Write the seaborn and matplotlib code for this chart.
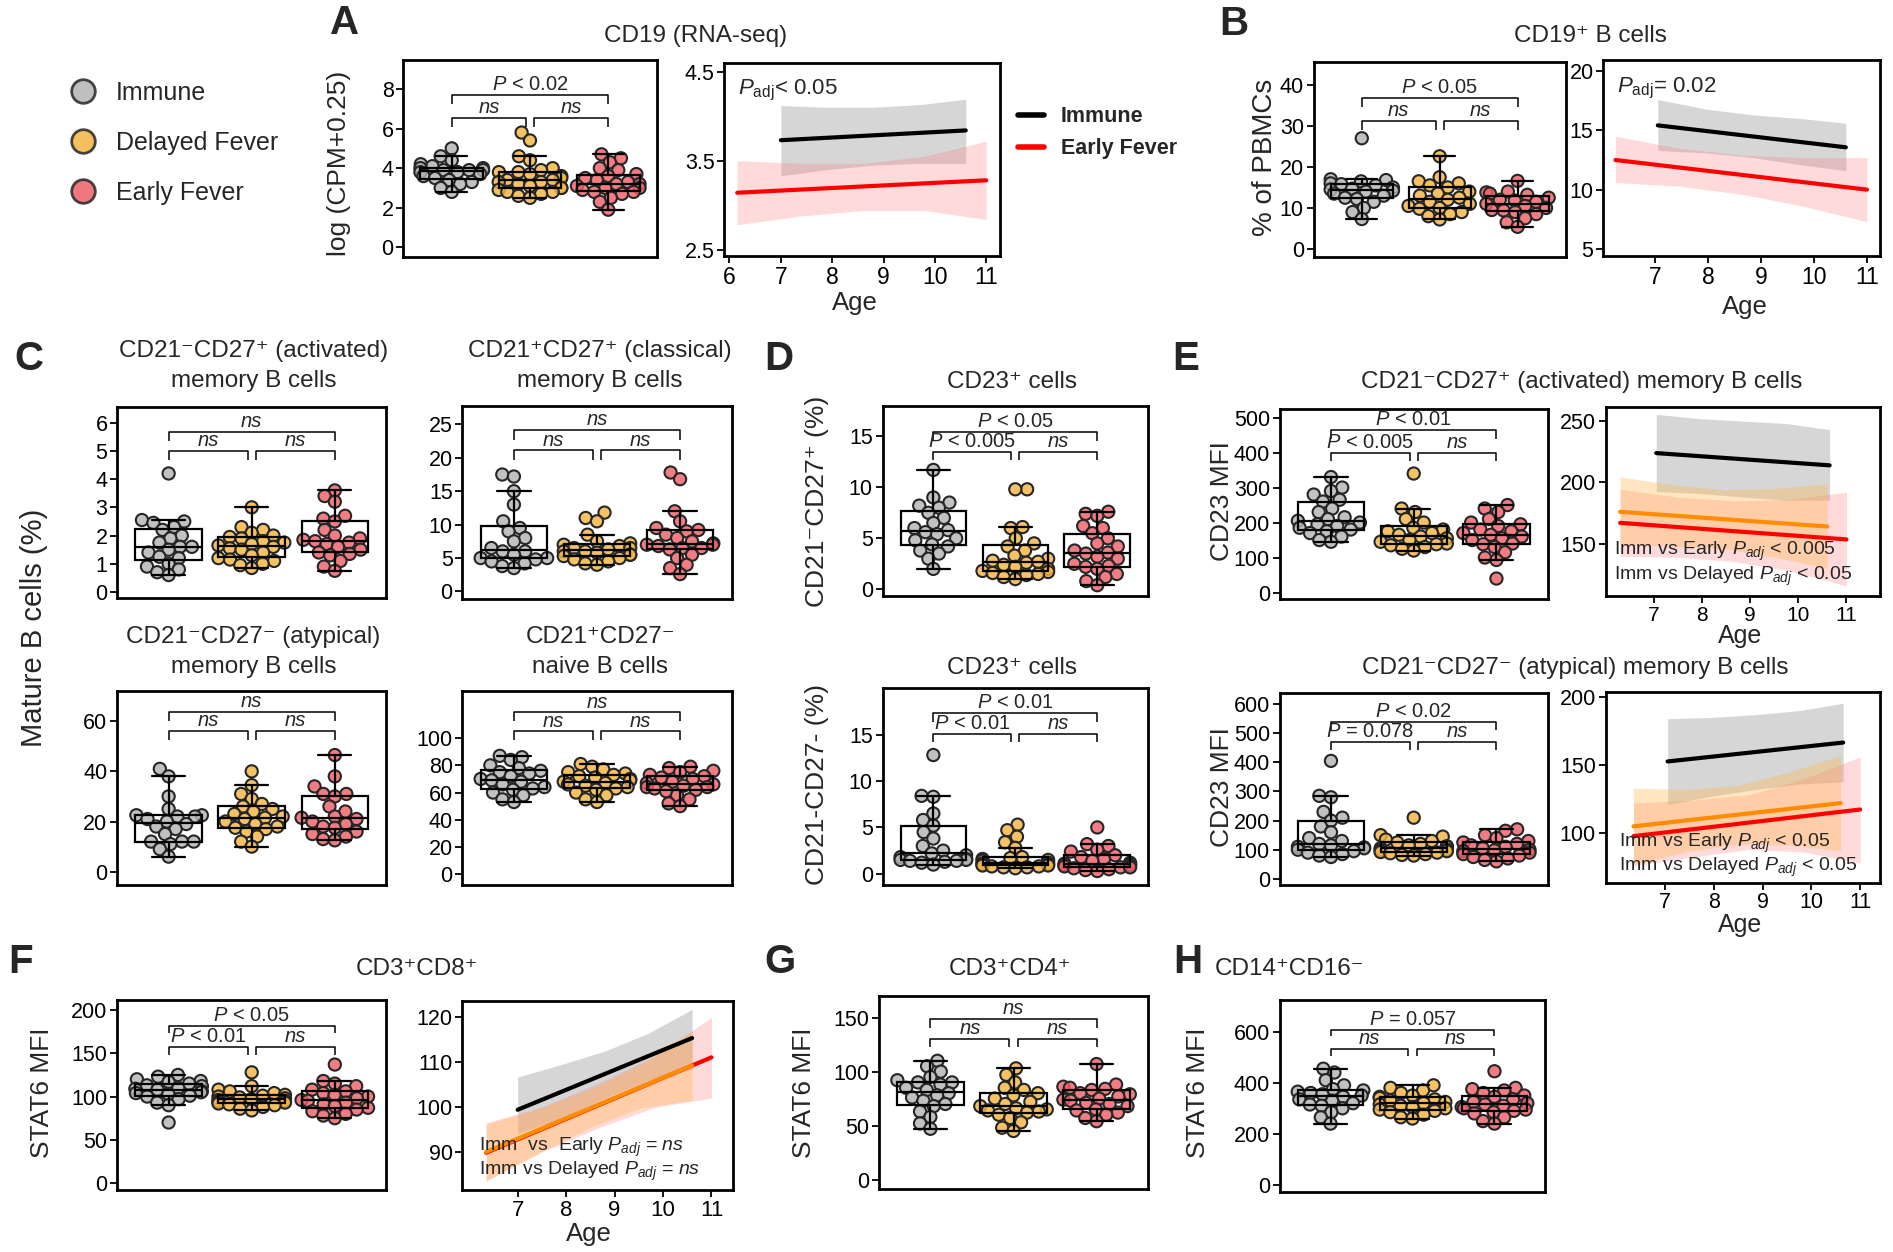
import numpy as np
import pandas as pd
import matplotlib
matplotlib.use("Agg")
import matplotlib.pyplot as plt
import seaborn as sns
from matplotlib.lines import Line2D

GROUPS = ["Immune", "Delayed Fever", "Early Fever"]

# ---------------- box / swarm data ----------------
A_imm = [5.0, 4.6, 4.4, 4.2, 4.1, 4.0, 4.0, 3.9, 3.9, 3.9, 3.8, 3.8, 3.7, 3.6, 3.5, 3.4, 3.3, 3.2, 3.0, 2.8]
A_del = [5.8, 5.4, 4.6, 4.4, 4.0, 3.9, 3.8, 3.8, 3.7, 3.6, 3.5, 3.4, 3.4, 3.3, 3.3, 3.2, 3.1, 3.0, 3.0, 2.9, 2.8, 2.8, 2.7, 2.6, 2.5]
A_early = [4.7, 4.5, 4.3, 4.0, 3.9, 3.7, 3.6, 3.5, 3.4, 3.3, 3.2, 3.2, 3.1, 3.0, 3.0, 2.9, 2.8, 2.8, 2.7, 2.5, 2.3, 1.9]

B_imm = [27.0, 17.0, 16.8, 16.5, 16.0, 15.8, 15.5, 15.0, 14.7, 14.5, 14.2, 14.0, 13.5, 13.0, 12.5, 12.2, 11.5, 10.0, 9.0, 7.3]
B_del = [22.6, 17.5, 16.5, 16.0, 15.5, 15.0, 14.0, 13.5, 13.0, 12.5, 12.0, 11.5, 11.0, 10.5, 10.0, 9.8, 9.0, 8.5, 8.0, 7.2]
B_early = [16.6, 14.0, 13.8, 13.5, 13.2, 12.5, 12.0, 11.8, 11.5, 11.0, 10.5, 10.0, 9.5, 9.4, 9.0, 8.5, 7.5, 6.5, 5.4]

C1_imm = [4.2, 2.55, 2.5, 2.45, 2.3, 2.2, 2.0, 1.9, 1.75, 1.6, 1.6, 1.5, 1.4, 1.25, 1.2, 1.0, 0.9, 0.8, 0.7, 0.6]
C1_del = [3.0, 2.3, 2.2, 2.1, 2.0, 1.95, 1.9, 1.8, 1.75, 1.7, 1.65, 1.6, 1.55, 1.5, 1.4, 1.3, 1.2, 1.15, 1.1, 1.0, 0.95, 0.85]
C1_early = [3.6, 3.4, 3.2, 2.7, 2.6, 2.5, 2.2, 2.0, 1.9, 1.85, 1.8, 1.75, 1.7, 1.6, 1.5, 1.4, 1.35, 1.3, 1.1, 0.9, 0.75]

C2_imm = [17.5, 17.2, 15.0, 13.0, 10.5, 9.5, 9.0, 8.0, 7.5, 6.5, 6.0, 6.0, 5.5, 5.0, 5.0, 4.8, 4.5, 4.2, 3.8, 3.5]
C2_del = [11.8, 11.0, 10.5, 8.5, 7.5, 7.2, 7.0, 6.8, 6.5, 6.5, 6.3, 6.0, 6.0, 5.8, 5.5, 5.5, 5.3, 5.0, 4.8, 4.5, 4.2, 4.0]
C2_early = [17.8, 16.8, 12.0, 10.5, 9.5, 9.2, 9.0, 8.5, 8.0, 7.5, 7.2, 7.0, 7.0, 6.8, 6.5, 6.5, 6.3, 5.5, 5.0, 4.0, 3.5, 2.6]

C3_imm = [41.0, 38.0, 30.0, 25.0, 22.5, 22.5, 22.0, 22.0, 21.0, 20.0, 19.0, 18.0, 17.0, 15.0, 12.0, 12.0, 12.0, 11.0, 9.0, 6.0]
C3_del = [40.0, 34.5, 31.0, 29.0, 27.0, 26.0, 25.0, 24.0, 23.0, 22.0, 21.5, 21.0, 20.0, 19.0, 18.0, 17.5, 17.0, 16.0, 14.0, 12.0, 10.0]
C3_early = [46.5, 38.0, 34.0, 31.0, 31.0, 30.0, 26.0, 24.0, 22.0, 21.5, 21.0, 20.0, 19.0, 18.0, 17.5, 16.0, 15.0, 14.0, 13.0, 12.5]

C4_imm = [87, 86, 84, 80, 78, 76, 75, 74, 72, 70, 69, 68, 66, 64, 63, 62, 60, 58, 55, 53]
C4_del = [81, 79, 77, 75, 74, 73, 72, 71, 70, 69, 68, 67, 66, 65, 64, 63, 62, 60, 58, 55, 53]
C4_early = [79, 78, 76, 75, 73, 72, 71, 70, 68, 67, 66, 65, 64, 64, 63, 62, 61, 58, 55, 52, 50]

D1_imm = [11.7, 9.0, 8.5, 8.2, 8.0, 7.5, 7.0, 6.5, 6.0, 5.8, 5.6, 5.4, 5.0, 4.8, 4.4, 4.2, 3.8, 3.5, 3.0, 2.0]
D1_del = [9.8, 9.8, 6.1, 6.0, 5.0, 4.5, 4.2, 3.8, 3.3, 3.0, 2.8, 2.7, 2.6, 2.4, 2.2, 2.0, 1.8, 1.7, 1.6, 1.5, 1.4, 1.2, 1.0]
D1_early = [7.6, 7.4, 7.2, 6.2, 6.0, 5.5, 5.0, 4.5, 4.2, 3.8, 3.6, 3.5, 3.2, 3.0, 2.5, 2.3, 2.2, 2.0, 1.5, 1.2, 0.8, 0.4]

D2_imm = [12.8, 8.4, 8.3, 6.5, 5.8, 5.2, 4.5, 3.8, 3.0, 2.5, 2.2, 2.0, 1.8, 1.6, 1.5, 1.5, 1.4, 1.4, 1.3, 1.2, 1.0]
D2_del = [5.3, 4.7, 4.0, 3.4, 2.8, 1.8, 1.7, 1.6, 1.5, 1.4, 1.2, 1.1, 1.0, 1.0, 0.9, 0.9, 0.8, 0.8, 0.7, 0.7, 0.6]
D2_early = [5.0, 3.2, 3.0, 2.6, 2.4, 2.0, 1.8, 1.6, 1.4, 1.2, 1.1, 1.0, 0.9, 0.9, 0.8, 0.7, 0.7, 0.6, 0.5, 0.4, 0.3]

E1_imm = [330, 300, 290, 280, 265, 260, 240, 230, 215, 210, 205, 200, 195, 190, 185, 180, 175, 170, 160, 150, 145]
E1_del = [340, 240, 230, 210, 200, 185, 180, 175, 170, 165, 160, 155, 150, 145, 140, 138, 135, 130, 125, 120]
E1_early = [250, 240, 230, 210, 200, 195, 190, 180, 175, 170, 165, 160, 155, 150, 140, 138, 130, 115, 100, 93, 40]

E2_imm = [405, 285, 280, 230, 210, 200, 180, 160, 140, 130, 120, 115, 110, 108, 105, 100, 95, 90, 85, 80, 75]
E2_del = [210, 150, 145, 135, 130, 125, 120, 115, 112, 110, 105, 100, 98, 95, 92, 90, 88, 85, 82, 80]
E2_early = [170, 165, 150, 140, 130, 125, 120, 115, 110, 105, 100, 98, 95, 90, 85, 80, 75, 70, 65, 60]

F_imm = [125, 123, 120, 118, 117, 115, 113, 112, 110, 109, 108, 106, 105, 104, 103, 101, 100, 97, 93, 90, 70]
F_del = [128, 112, 108, 106, 104, 102, 101, 100, 99, 98, 97, 96, 95, 94, 93, 92, 91, 90, 88, 86, 84]
F_early = [137, 118, 115, 112, 108, 106, 104, 102, 100, 98, 96, 95, 93, 91, 89, 87, 85, 83, 80, 78, 75]

G_imm = [110, 105, 100, 95, 92, 90, 90, 88, 85, 83, 80, 78, 76, 73, 70, 68, 63, 58, 52, 47]
G_del = [103, 97, 90, 85, 83, 80, 78, 75, 72, 70, 68, 66, 65, 64, 63, 62, 60, 57, 53, 48, 45]
G_early = [107, 88, 86, 85, 84, 83, 80, 79, 77, 75, 74, 73, 71, 70, 68, 65, 64, 62, 60, 57, 54]

H_imm = [455, 440, 410, 390, 375, 370, 365, 360, 355, 350, 345, 335, 330, 320, 315, 310, 300, 285, 265, 240]
H_del = [390, 380, 370, 360, 350, 345, 340, 335, 330, 325, 320, 315, 310, 305, 300, 295, 290, 285, 275, 265, 260]
H_early = [445, 380, 375, 370, 360, 350, 345, 335, 325, 320, 315, 310, 305, 300, 295, 290, 285, 280, 265, 250, 240]

# ---------------- regression fits (age, fit, lower, upper) ----------------
A_reg_imm_age = [7.0, 7.9, 8.8, 9.7, 10.6]
A_reg_imm_fit = [3.73, 3.76, 3.79, 3.81, 3.84]
A_reg_imm_lo = [3.33, 3.40, 3.45, 3.47, 3.47]
A_reg_imm_hi = [4.12, 4.10, 4.10, 4.13, 4.19]
A_reg_early_age = [6.15, 7.4, 8.6, 9.8, 11.0]
A_reg_early_fit = [3.14, 3.18, 3.21, 3.25, 3.28]
A_reg_early_lo = [2.78, 2.88, 2.94, 2.94, 2.84]
A_reg_early_hi = [3.50, 3.47, 3.47, 3.55, 3.72]

B_reg_imm_age = [7.05, 7.95, 8.85, 9.75, 10.6]
B_reg_imm_fit = [15.42, 14.95, 14.48, 14.02, 13.57]
B_reg_imm_lo = [13.3, 13.1, 12.7, 12.1, 11.6]
B_reg_imm_hi = [17.6, 16.8, 16.3, 16.0, 15.6]
B_reg_early_age = [6.25, 7.45, 8.65, 9.8, 11.0]
B_reg_early_fit = [12.5, 11.87, 11.24, 10.63, 10.0]
B_reg_early_lo = [10.6, 10.3, 9.6, 8.6, 7.3]
B_reg_early_hi = [14.5, 13.5, 12.9, 12.7, 12.7]

E1_reg_imm_age = [7.05, 7.95, 8.85, 9.75, 10.65]
E1_reg_imm_fit = [223.9, 221.4, 218.9, 216.4, 213.9]
E1_reg_imm_lo = [192.6, 191.0, 188.0, 185.5, 185.5]
E1_reg_imm_hi = [255.5, 252.0, 250.0, 248.0, 243.0]
E1_reg_del_age = [6.3, 7.4, 8.45, 9.5, 10.6]
E1_reg_del_fit = [176, 173, 170, 167, 164]
E1_reg_del_lo = [149, 148, 146, 139, 130]
E1_reg_del_hi = [204.5, 198, 194, 195, 199]
E1_reg_early_age = [6.3, 7.5, 8.65, 9.8, 11.0]
E1_reg_early_fit = [167.0, 163.5, 160.2, 156.8, 153.5]
E1_reg_early_lo = [139.7, 139.0, 135.5, 128.0, 115.5]
E1_reg_early_hi = [194.5, 188.0, 185.0, 186.0, 192.0]

E2_reg_imm_age = [7.05, 7.95, 8.85, 9.75, 10.65]
E2_reg_imm_fit = [152.6, 156.1, 159.6, 163.0, 166.5]
E2_reg_imm_lo = [121, 127, 132, 136, 137.6]
E2_reg_imm_hi = [184, 185, 187, 190, 195.4]
E2_reg_del_age = [6.35, 7.4, 8.5, 9.55, 10.6]
E2_reg_del_fit = [104.9, 109.1, 113.5, 117.8, 122.0]
E2_reg_del_lo = [77, 86, 92, 91, 87]
E2_reg_del_hi = [133, 132, 135, 145, 157]
E2_reg_early_age = [6.35, 7.5, 8.7, 9.85, 11.0]
E2_reg_early_fit = [97.7, 102.5, 107.6, 112.4, 117.3]
E2_reg_early_lo = [76, 82, 88, 86, 78]
E2_reg_early_hi = [122, 124, 128, 140, 156]

F_reg_imm_age = [7.0, 7.9, 8.8, 9.7, 10.6]
F_reg_imm_fit = [99.4, 103.4, 107.4, 111.4, 115.4]
F_reg_imm_lo = [94.1, 97.5, 102.0, 106.0, 108.5]
F_reg_imm_hi = [106.7, 109.5, 112.5, 116.5, 121.8]
F_reg_del_age = [6.35, 7.4, 8.5, 9.55, 10.6]
F_reg_del_fit = [90.0, 94.8, 99.8, 104.6, 109.3]
F_reg_del_lo = [83.6, 89.5, 95.5, 99.8, 101.5]
F_reg_del_hi = [96.2, 99.5, 104.0, 109.5, 117.0]
F_reg_early_age = [6.35, 7.5, 8.7, 9.85, 11.0]
F_reg_early_fit = [89.8, 95.1, 100.6, 105.8, 111.1]
F_reg_early_lo = [83.5, 90.0, 95.5, 100.0, 102.0]
F_reg_early_hi = [96.5, 100.0, 105.5, 111.5, 120.0]

# ---------------- style ----------------
sns.set_theme(style="white")
plt.rcParams["font.family"] = ["Liberation Sans", "DejaVu Sans"]
plt.rcParams["mathtext.fontset"] = "custom"
plt.rcParams["mathtext.rm"] = "Liberation Sans"
plt.rcParams["mathtext.it"] = "Liberation Sans:italic"
plt.rcParams["mathtext.bf"] = "Liberation Sans:bold"

NARROW = ["Liberation Sans Narrow", "Liberation Sans", "DejaVu Sans"]

FILL = {"Immune": "#b4b4b4", "Delayed Fever": "#f2b443", "Early Fever": "#ef5f68"}
EDGE = "#262626"
LINE_C = {"imm": "black", "del": "#ff8c00", "early": "#ff0000"}
BAND_C = {"imm": ("#8c8c8c", 0.35), "del": ("#ffb84d", 0.35), "early": ("#ff7a7a", 0.28)}

W, H = 1568.0, 1037.0
fig = plt.figure(figsize=(18.93, 12.52), dpi=100)
BOX_AXES = []


def add_ax(l, t, r, b):
    return fig.add_axes([l / W, 1 - b / H, (r - l) / W, (b - t) / H])


def ftext(x, y, s, **kw):
    kw.setdefault("ha", "center")
    kw.setdefault("va", "center")
    fig.text(x / W, 1 - y / H, s, **kw)


def frame(ax):
    for sp in ax.spines.values():
        sp.set_visible(True)
        sp.set_color("black")
        sp.set_linewidth(2.0)
    ax.tick_params(axis="y", which="major", left=True, direction="out", length=5,
                   width=1.3, color="black", labelsize=15.5, pad=2, labelcolor="black",
                   labelfontfamily=NARROW)


def box_panel(rect, vals, ylim, yticks, br, texts):
    ax = add_ax(*rect)
    df = pd.DataFrame({"group": np.repeat(GROUPS, [len(v) for v in vals]),
                       "value": np.concatenate([np.asarray(v, float) for v in vals])})
    sns.boxplot(data=df, x="group", y="value", order=GROUPS, ax=ax, width=0.8,
                color="white", linecolor="black", linewidth=1.6, showfliers=False,
                whis=1.5, showcaps=True)
    for p in ax.patches:
        p.set_facecolor("none")
        p.set_zorder(2.6)
    for ln in ax.lines:
        ln.set_zorder(2.6)
    sns.swarmplot(data=df, x="group", y="value", order=GROUPS, hue="group",
                  hue_order=GROUPS, palette=FILL, ax=ax, size=6.6, edgecolor=EDGE,
                  linewidth=1.5, legend=False, zorder=2)
    for coll in ax.collections:
        fc = coll.get_facecolors()
        if len(fc):
            fc[:, 3] = 0.82
            coll.set_facecolors(fc)
    ax.set_xlim(-0.62, 2.62)
    ax.set_ylim(*ylim)
    ax.set_yticks(yticks)
    ax.set_xticks([])
    ax.set_xlabel("")
    ax.set_ylabel("")
    frame(ax)
    yt, yl, tk = br
    rng = ylim[1] - ylim[0]
    kw = dict(color="black", lw=1.1, solid_capstyle="butt")
    ax.plot([0, 0, 2, 2], [yt - tk, yt, yt, yt - tk], **kw)
    ax.plot([0, 0, 0.95, 0.95], [yl - tk, yl, yl, yl - tk], **kw)
    ax.plot([1.05, 1.05, 2, 2], [yl - tk, yl, yl, yl - tk], **kw)
    pad = 0.004 * rng
    for (xc, yb), s in zip([(1.0, yt), (0.475, yl), (1.525, yl)], texts):
        if s == "ns":
            ax.text(xc, yb + pad, s, ha="center", va="bottom", fontsize=14.5, style="italic",
                    family=NARROW)
        else:
            ax.text(xc, yb + pad, s, ha="center", va="bottom", fontsize=14.5, family=NARROW)
    BOX_AXES.append(ax)
    return ax


def reg_panel(rect, series, xlim, ylim, xticks, yticks, xls=16.5):
    ax = add_ax(*rect)
    for key, age, fit, lo, hi in series:
        c, a = BAND_C[key]
        ax.fill_between(age, lo, hi, color=c, alpha=a, lw=0)
        sns.lineplot(x=[age[0], age[-1]], y=[fit[0], fit[-1]], ax=ax,
                     color=LINE_C[key], lw=3)
    ax.set_xlim(*xlim)
    ax.set_ylim(*ylim)
    ax.set_xticks(xticks)
    ax.set_yticks(yticks)
    frame(ax)
    ax.tick_params(axis="x", which="major", bottom=True, direction="out", length=5,
                   width=1.3, color="black", labelsize=xls, pad=2, labelcolor="black",
                   labelfontfamily=NARROW)
    return ax


P = r"$\mathit{P}$"
RS = 14

# ---------------- Panel A ----------------
box_panel((334, 50, 544, 213), [A_imm, A_del, A_early], (-0.5, 9.45), [0, 2, 4, 6, 8],
          (7.7, 6.55, 0.45), [P + " < 0.02", "ns", "ns"])
axA = reg_panel((600, 52, 828, 212),
                [("imm", A_reg_imm_age, A_reg_imm_fit, A_reg_imm_lo, A_reg_imm_hi),
                 ("early", A_reg_early_age, A_reg_early_fit, A_reg_early_lo, A_reg_early_hi)],
                (5.9, 11.26), (2.43, 4.6), [6, 7, 8, 9, 10, 11], [2.5, 3.5, 4.5])
axA.text(0.05, 0.92, r"$P_{\mathrm{adj}}$< 0.05", transform=axA.transAxes, fontsize=16,
         ha="left", va="top", family=NARROW)

# ---------------- Panel B ----------------
box_panel((1088, 51, 1297, 213), [B_imm, B_del, B_early], (-2.0, 45.7), [0, 10, 20, 30, 40],
          (36.8, 31.3, 2.3), [P + " < 0.05", "ns", "ns"])
axB = reg_panel((1328, 50, 1557, 212),
                [("imm", B_reg_imm_age, B_reg_imm_fit, B_reg_imm_lo, B_reg_imm_hi),
                 ("early", B_reg_early_age, B_reg_early_fit, B_reg_early_lo, B_reg_early_hi)],
                (6.02, 11.24), (4.41, 20.9), [7, 8, 9, 10, 11], [5, 10, 15, 20])
axB.text(0.05, 0.92, r"$P_{\mathrm{adj}}$= 0.02", transform=axB.transAxes, fontsize=16,
         ha="left", va="top", family=NARROW)

# ---------------- Panel C ----------------
box_panel((97, 337, 320, 495), [C1_imm, C1_del, C1_early], (-0.2, 6.56), [0, 1, 2, 3, 4, 5, 6],
          (5.67, 5.0, 0.33), ["ns", "ns", "ns"])
box_panel((383, 336, 606, 496), [C2_imm, C2_del, C2_early], (-1.1, 27.8), [0, 5, 10, 15, 20, 25],
          (24.2, 21.1, 1.5), ["ns", "ns", "ns"])
box_panel((97, 572, 320, 733), [C3_imm, C3_del, C3_early], (-5.3, 72.2), [0, 20, 40, 60],
          (63.7, 56.2, 3.7), ["ns", "ns", "ns"])
box_panel((383, 572, 606, 733), [C4_imm, C4_del, C4_early], (-8, 135), [0, 20, 40, 60, 80, 100],
          (119, 105, 6.5), ["ns", "ns", "ns"])

# ---------------- Panel D ----------------
box_panel((731, 336, 951, 494), [D1_imm, D1_del, D1_early], (-0.7, 18.0), [0, 5, 10, 15],
          (15.4, 13.5, 0.85), [P + " < 0.05", P + " < 0.005", "ns"])
box_panel((731, 570, 951, 733), [D2_imm, D2_del, D2_early], (-1.2, 20.0), [0, 5, 10, 15],
          (17.3, 15.1, 0.9), [P + " < 0.01", P + " < 0.01", "ns"])

# ---------------- Panel E ----------------
box_panel((1060, 339, 1282, 496), [E1_imm, E1_del, E1_early], (-18, 523.6), [0, 100, 200, 300, 400, 500],
          (464, 400, 25), [P + " < 0.01", P + " < 0.005", "ns"])
axE1 = reg_panel((1330, 337, 1557, 494),
                 [("imm", E1_reg_imm_age, E1_reg_imm_fit, E1_reg_imm_lo, E1_reg_imm_hi),
                  ("early", E1_reg_early_age, E1_reg_early_fit, E1_reg_early_lo, E1_reg_early_hi),
                  ("del", E1_reg_del_age, E1_reg_del_fit, E1_reg_del_lo, E1_reg_del_hi)],
                 (6.0, 11.69), (107, 261.6), [7, 8, 9, 10, 11], [150, 200, 250], xls=15)
axE1.text(0.03, 0.24, r"Imm vs Early $P_{adj}$ < 0.005", transform=axE1.transAxes,
          fontsize=RS, ha="left", va="center", family=NARROW)
axE1.text(0.03, 0.105, r"Imm vs Delayed $P_{adj}$ < 0.05", transform=axE1.transAxes,
          fontsize=RS, ha="left", va="center", family=NARROW)

box_panel((1060, 574, 1282, 733), [E2_imm, E2_del, E2_early], (-21, 638), [0, 100, 200, 300, 400, 500, 600],
          (540, 470, 28), [P + " < 0.02", P + " = 0.078", "ns"])
axE2 = reg_panel((1330, 573, 1557, 731),
                 [("imm", E2_reg_imm_age, E2_reg_imm_fit, E2_reg_imm_lo, E2_reg_imm_hi),
                  ("early", E2_reg_early_age, E2_reg_early_fit, E2_reg_early_lo, E2_reg_early_hi),
                  ("del", E2_reg_del_age, E2_reg_del_fit, E2_reg_del_lo, E2_reg_del_hi)],
                 (5.78, 11.4), (63.6, 203.8), [7, 8, 9, 10, 11], [100, 150, 200], xls=15.5)
axE2.text(0.05, 0.206, r"Imm vs Early $P_{adj}$ < 0.05", transform=axE2.transAxes,
          fontsize=RS, ha="left", va="center", family=NARROW)
axE2.text(0.05, 0.078, r"Imm vs Delayed $P_{adj}$ < 0.05", transform=axE2.transAxes,
          fontsize=RS, ha="left", va="center", family=NARROW)

# ---------------- Panel F ----------------
box_panel((97, 828, 320, 986), [F_imm, F_del, F_early], (-8.5, 212), [0, 50, 100, 150, 200],
          (182, 157.5, 9), [P + " < 0.05", P + " < 0.01", "ns"])
axF = reg_panel((383, 829, 607, 986),
                [("imm", F_reg_imm_age, F_reg_imm_fit, F_reg_imm_lo, F_reg_imm_hi),
                 ("early", F_reg_early_age, F_reg_early_fit, F_reg_early_lo, F_reg_early_hi),
                 ("del", F_reg_del_age, F_reg_del_fit, F_reg_del_lo, F_reg_del_hi)],
                (5.86, 11.44), (81.4, 123.7), [7, 8, 9, 10, 11], [90, 100, 110, 120], xls=16)
axF.text(0.06, 0.228, r"Imm  vs  Early $P_{adj}$ = $ns$", transform=axF.transAxes,
         fontsize=RS, ha="left", va="center", family=NARROW)
axF.text(0.06, 0.10, r"Imm vs Delayed $P_{adj}$ = $ns$", transform=axF.transAxes,
         fontsize=RS, ha="left", va="center", family=NARROW)

# ---------------- Panels G, H ----------------
box_panel((728, 825, 951, 985), [G_imm, G_del, G_early], (-9, 170), [0, 50, 100, 150],
          (148.5, 130.6, 8), ["ns", "ns", "ns"])
box_panel((1060, 828, 1280, 987), [H_imm, H_del, H_early], (-26, 725), [0, 200, 400, 600],
          (606, 531, 25), [P + " = 0.057", "ns", "ns"])

# ---------------- Figure texts ----------------
for lab, x, y in [("A", 285, 19), ("B", 1022, 20), ("C", 24, 297), ("D", 645, 297),
                  ("E", 982, 297), ("F", 17, 797), ("G", 646, 797), ("H", 984, 797)]:
    ftext(x, y, lab, fontsize=29, fontweight="bold", family=NARROW)

TS = 17.5
ftext(576, 30, "CD19 (RNA-seq)", fontsize=TS)
ftext(1317, 30, "CD19\u207a B cells", fontsize=TS)
ftext(210, 303, "CD21\u207bCD27\u207a (activated)\nmemory B cells", fontsize=TS, linespacing=1.45)
ftext(497, 303, "CD21\u207aCD27\u207a (classical)\nmemory B cells", fontsize=TS, linespacing=1.45)
ftext(210, 540, "CD21\u207bCD27\u207b (atypical)\nmemory B cells", fontsize=TS, linespacing=1.45)
ftext(497, 540, "CD21\u207aCD27\u207b\nnaive B cells", fontsize=TS, linespacing=1.45)
ftext(838, 316, "CD23\u207a cells", fontsize=TS)
ftext(838, 553, "CD23\u207a cells", fontsize=TS)
ftext(1310, 316, "CD21\u207bCD27\u207a (activated) memory B cells", fontsize=TS)
ftext(1305, 553, "CD21\u207bCD27\u207b (atypical) memory B cells", fontsize=TS)
ftext(345, 803, "CD3\u207aCD8\u207a", fontsize=TS)
ftext(837, 803, "CD3\u207aCD4\u207a", fontsize=TS)
ftext(1068, 803, "CD14\u207aCD16\u207b", fontsize=TS)

YS = 19
ftext(281, 135, "log (CPM+0.25)", fontsize=YS, rotation=90)
ftext(1048, 130, "% of PBMCs", fontsize=YS + 1, rotation=90)
ftext(28, 520, "Mature B cells (%)", fontsize=21, rotation=90)
ftext(677, 415, "CD21\u207bCD27\u207a (%)", fontsize=YS, rotation=90)
ftext(677, 650, "CD21-CD27- (%)", fontsize=YS, rotation=90)
ftext(1012, 415, "CD23 MFI", fontsize=YS, rotation=90)
ftext(1012, 652, "CD23 MFI", fontsize=YS, rotation=90)
ftext(35, 905, "STAT6 MFI", fontsize=YS, rotation=90)
ftext(666, 905, "STAT6 MFI", fontsize=YS, rotation=90)
ftext(992, 905, "STAT6 MFI", fontsize=YS, rotation=90)

AS = 18.5
ftext(708, 251, "Age", fontsize=AS)
ftext(1445, 254, "Age", fontsize=AS)
ftext(1441, 527, "Age", fontsize=AS - 0.5)
ftext(1441, 766, "Age", fontsize=AS - 0.5)
ftext(488, 1022, "Age", fontsize=AS)

# group legend (left)
leg_handles = [Line2D([], [], marker="o", linestyle="", markersize=17,
                      markerfacecolor=FILL[g], markeredgecolor=EDGE, markeredgewidth=2.0, alpha=0.85)
               for g in GROUPS]
fig.legend(leg_handles, GROUPS, loc="upper left", bbox_to_anchor=(40 / W, 1 - 59 / H),
           frameon=False, fontsize=18, labelspacing=1.03, handletextpad=0.3, borderaxespad=0)

# regression legend (panel A)
reg_handles = [Line2D([], [], color="black", lw=4), Line2D([], [], color="#ff0000", lw=4)]
fig.legend(reg_handles, ["Immune", "Early Fever"], loc="upper left",
           bbox_to_anchor=(836 / W, 1 - 81 / H), frameon=False,
           prop={"size": 15.5, "weight": "bold"}, labelspacing=0.5, handlelength=1.2,
           handletextpad=0.8, borderaxespad=0)

# compute the swarm layout with a compact spacing, then freeze it and enlarge the markers
fig.canvas.draw()
for ax in BOX_AXES:
    for coll in ax.collections:
        if "draw" in coll.__dict__:
            del coll.__dict__["draw"]
        n = len(coll.get_offsets())
        if n:
            coll.set_sizes(np.full(n, 8.8 ** 2))

fig.savefig("out.png", dpi=100)
